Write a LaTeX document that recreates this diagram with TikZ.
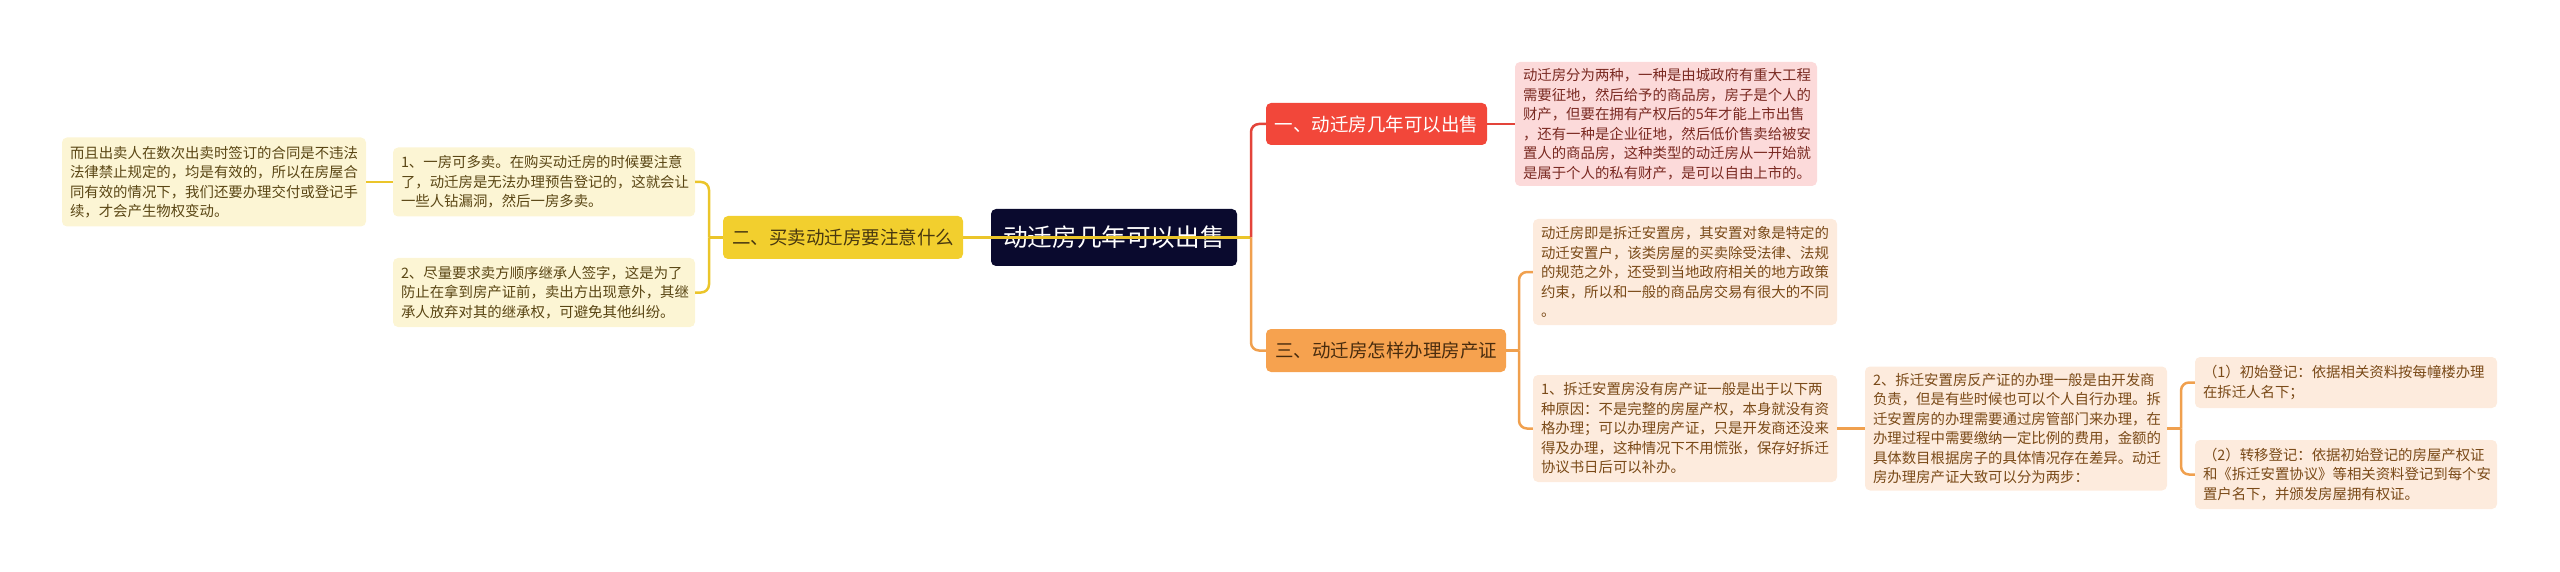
\documentclass[tikz,border=0pt]{standalone}
\usepackage{fontspec}
\setmainfont{Noto Sans CJK SC}
\definecolor{ybr}{HTML}{F2CF2E}
\definecolor{ylf}{HTML}{FCF5D4}
\definecolor{ytx}{HTML}{5A4614}
\definecolor{yln}{HTML}{EBC52A}
\definecolor{rbr}{HTML}{F2473A}
\definecolor{rlf}{HTML}{FCDADA}
\definecolor{rtx}{HTML}{7A2A22}
\definecolor{rln}{HTML}{E3443A}
\definecolor{obr}{HTML}{F6A24F}
\definecolor{olf}{HTML}{FDEBDD}
\definecolor{otx}{HTML}{7A4A18}
\definecolor{oln}{HTML}{F0A04E}
\definecolor{navy}{HTML}{0A0A2E}
\begin{document}
\begin{tikzpicture}[x=1pt,y=-1pt,
    box/.style={rounded corners=5pt,inner xsep=8pt,inner ysep=0pt,align=left,
        font=\fontsize{14.4}{19.5}\selectfont},
    branch/.style={rounded corners=5pt,inner sep=0pt,minimum height=43pt,
        font=\fontsize{18.5}{22}\selectfont},
    yleaf/.style={box,fill=ylf,text=ytx},
    rleaf/.style={box,fill=rlf,text=rtx},
    oleaf/.style={box,fill=olf,text=otx},
    yline/.style={draw=yln,line width=2.5pt,rounded corners=8pt},
    rline/.style={draw=rln,line width=2.5pt,rounded corners=8pt},
    oline/.style={draw=oln,line width=2.5pt,rounded corners=8pt}]
\useasboundingbox (0,0) rectangle (2560,572);

\node[rounded corners=5pt,fill=navy,text=white,minimum width=246pt,minimum height=57pt,
    font=\fontsize{24.6}{28}\selectfont] (root) at (1114,237.5) {动迁房几年可以出售};

\node[branch,fill=ybr,text=ytx!80!black,minimum width=240pt] (two) at (843,237.5) {二、买卖动迁房要注意什么};
\node[yleaf,text width=286pt,minimum height=69pt] (a1) at (544,182) {1、一房可多卖。在购买动迁房的时候要注意\\了，动迁房是无法办理预告登记的，这就会让\\一些人钻漏洞，然后一房多卖。};
\node[yleaf,text width=286pt,minimum height=69pt] (a2) at (544,292.5) {2、尽量要求卖方顺序继承人签字，这是为了\\防止在拿到房产证前，卖出方出现意外，其继\\承人放弃对其的继承权，可避免其他纠纷。};
\node[yleaf,text width=288pt,minimum height=89pt] (a0) at (214,182) {而且出卖人在数次出卖时签订的合同是不违法\\法律禁止规定的，均是有效的，所以在房屋合\\同有效的情况下，我们还要办理交付或登记手\\续，才会产生物权变动。};

\node[branch,fill=rbr,text=white,minimum width=221pt,minimum height=42pt] (one) at (1376.5,124) {一、动迁房几年可以出售};
\node[rleaf,text width=286pt,minimum height=124pt] (r1) at (1666,124) {动迁房分为两种，一种是由城政府有重大工程\\需要征地，然后给予的商品房，房子是个人的\\财产，但要在拥有产权后的5年才能上市出售\\，还有一种是企业征地，然后低价售卖给被安\\置人的商品房，这种类型的动迁房从一开始就\\是属于个人的私有财产，是可以自由上市的。};

\node[branch,fill=obr,text=otx!60!black,minimum width=240pt] (three) at (1386,350.5) {三、动迁房怎样办理房产证};
\node[oleaf,text width=288pt,minimum height=106pt] (o1) at (1685,272) {动迁房即是拆迁安置房，其安置对象是特定的\\动迁安置户，该类房屋的买卖除受法律、法规\\的规范之外，还受到当地政府相关的地方政策\\约束，所以和一般的商品房交易有很大的不同\\。};
\node[oleaf,text width=288pt,minimum height=107pt] (o2) at (1685,428.5) {1、拆迁安置房没有房产证一般是出于以下两\\种原因：不是完整的房屋产权，本身就没有资\\格办理；可以办理房产证，只是开发商还没来\\得及办理，这种情况下不用慌张，保存好拆迁\\协议书日后可以补办。};
\node[oleaf,text width=286pt,minimum height=124pt] (o3) at (2016,428.5) {2、拆迁安置房反产证的办理一般是由开发商\\负责，但是有些时候也可以个人自行办理。拆\\迁安置房的办理需要通过房管部门来办理，在\\办理过程中需要缴纳一定比例的费用，金额的\\具体数目根据房子的具体情况存在差异。动迁\\房办理房产证大致可以分为两步：};
\node[oleaf,text width=286pt,minimum height=51pt] (p1) at (2346,382.5) {（1）初始登记：依据相关资料按每幢楼办理\\在拆迁人名下；};
\node[oleaf,text width=286pt,minimum height=69pt] (p2) at (2346,474.5) {（2）转移登记：依据初始登记的房屋产权证\\和《拆迁安置协议》等相关资料登记到每个安\\置户名下，并颁发房屋拥有权证。};

\coordinate (jl) at (709,237.5);
\coordinate (jr) at (1251,237.5);
\coordinate (jo) at (1519,350.5);
\coordinate (jp) at (2181,428.5);

\draw[yline] (two.west) -- (jl);
\draw[yline] (jl) |- (a1.east);
\draw[yline] (jl) |- (a2.east);
\draw[yline] (a1.west) -- (a0.east);
\draw[yline] (two.east) -- (jr);

\draw[rline] (jr) |- (one.west);
\draw[rline] (one.east) -- (r1.west);

\draw[oline] (jr) |- (three.west);
\draw[oline] (three.east) -- (jo);
\draw[oline] (jo) |- (o1.west);
\draw[oline] (jo) |- (o2.west);
\draw[oline] (o2.east) -- (o3.west);
\draw[oline] (o3.east) -- (jp);
\draw[oline] (jp) |- (p1.west);
\draw[oline] (jp) |- (p2.west);
\end{tikzpicture}
\end{document}
